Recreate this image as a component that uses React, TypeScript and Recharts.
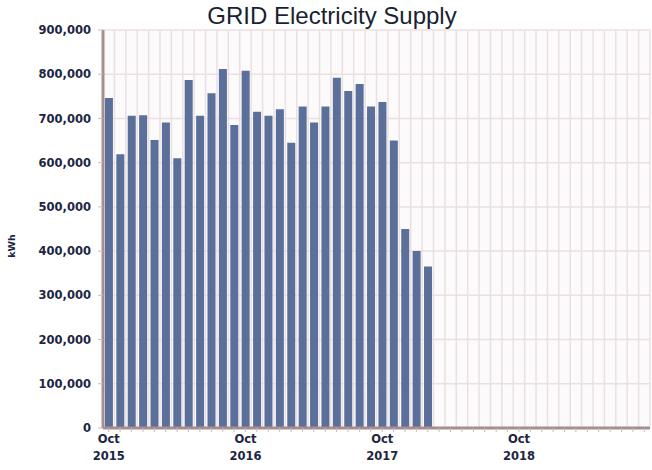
import { BarChart, Bar, XAxis, YAxis, CartesianGrid } from "recharts";

// meses do eixo X (Oct 2015 .. Sep 2019)
const months = [
  "Oct 2015", "Nov 2015", "Dec 2015", "Jan 2016", "Feb 2016", "Mar 2016",
  "Apr 2016", "May 2016", "Jun 2016", "Jul 2016", "Aug 2016", "Sep 2016",
  "Oct 2016", "Nov 2016", "Dec 2016", "Jan 2017", "Feb 2017", "Mar 2017",
  "Apr 2017", "May 2017", "Jun 2017", "Jul 2017", "Aug 2017", "Sep 2017",
  "Oct 2017", "Nov 2017", "Dec 2017", "Jan 2018", "Feb 2018", "Mar 2018",
  "Apr 2018", "May 2018", "Jun 2018", "Jul 2018", "Aug 2018", "Sep 2018",
  "Oct 2018", "Nov 2018", "Dec 2018", "Jan 2019", "Feb 2019", "Mar 2019",
  "Apr 2019", "May 2019", "Jun 2019", "Jul 2019", "Aug 2019", "Sep 2019",
];

// consumo da rede em kWh (só os meses com leitura)
const gridKwh = [
  746000, 619000, 706000, 707000, 651000, 691000, 610000, 787000, 706000,
  757000, 812000, 685000, 808000, 715000, 706000, 721000, 645000, 727000,
  691000, 727000, 792000, 762000, 778000, 727000, 737000, 650000, 450000,
  400000, 365000,
];

const yTicks = [0, 100000, 200000, 300000, 400000, 500000, 600000, 700000, 800000, 900000];

const data = months.map((m, i) => ({ month: m, kwh: gridKwh[i] ?? null }));

const textColor = "#1d2542";
const labelFont = "'DejaVu Sans', Verdana, sans-serif";

const MonthTick = (props: any) => {
  const { x, y, payload } = props;
  const [mon, yr] = String(payload.value).split(" ");
  if (mon !== "Oct") return null;
  return (
    <text
      x={x}
      y={y}
      textAnchor="middle"
      fill={textColor}
      fontFamily={labelFont}
      fontWeight="bold"
      fontSize={11.5}
    >
      <tspan x={x} dy={9}>{mon}</tspan>
      <tspan x={x} dy={17}>{yr}</tspan>
    </text>
  );
};

const KwhLabel = () => (
  <text
    x={15}
    y={246}
    transform="rotate(-90 15 246)"
    textAnchor="middle"
    fill={textColor}
    fontFamily={labelFont}
    fontWeight="bold"
    fontSize={9.5}
  >
    kWh
  </text>
);

export default function App() {
  return (
    <div style={{ position: "relative", width: 652, height: 470, background: "#fff" }}>
      <style>{"body{margin:0}"}</style>
      <div
        style={{
          position: "absolute",
          left: 0,
          width: 664,
          top: 2,
          textAlign: "center",
          fontFamily: "'Liberation Sans', Arial, sans-serif",
          fontSize: 24,
          color: "#1a1f33",
        }}
      >
        GRID Electricity Supply
      </div>
      <BarChart
        width={652}
        height={470}
        data={data}
        margin={{ top: 30, right: 2, left: 0, bottom: 0 }}
        barCategoryGap="17%"
      >
        <CartesianGrid
          fill="#fcfafa"
          stroke="#ebe0e1"
          strokeWidth={1.5}
          verticalCoordinatesGenerator={({ offset }: any) =>
            months.map((_, i) => offset.left + ((i + 1) * offset.width) / months.length)
          }
        />
        <XAxis
          dataKey="month"
          interval={0}
          height={42}
          tick={<MonthTick />}
          tickSize={4}
          tickMargin={2}
          tickLine={{ stroke: "#c4bcbc" }}
          axisLine={{ stroke: "#a78e8e", strokeWidth: 3 }}
        />
        <YAxis
          width={103}
          domain={[0, 900000]}
          ticks={yTicks}
          interval={0}
          tickFormatter={(v: number) => v.toLocaleString("en-US")}
          tick={{ fill: textColor, fontFamily: labelFont, fontWeight: "bold", fontSize: 11.5 }}
          tickSize={5}
          tickMargin={7}
          tickLine={{ stroke: "#c4bcbc" }}
          axisLine={{ stroke: "#a78e8e", strokeWidth: 3 }}
          label={<KwhLabel />}
        />
        <Bar dataKey="kwh" fill="#5a709b" isAnimationActive={false} />
      </BarChart>
    </div>
  );
}
